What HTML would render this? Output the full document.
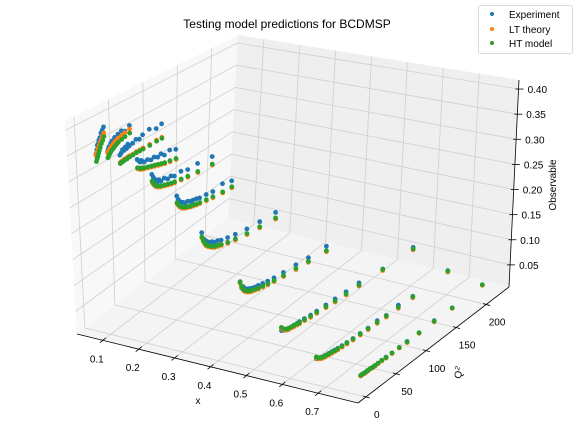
<!DOCTYPE html>
<html><head><meta charset="utf-8"><style>
html,body{margin:0;padding:0;background:#fff;}
svg{display:block;font-family:"Liberation Sans","DejaVu Sans",sans-serif;}
</style></head><body>
<svg id="chart" width="576" height="432" viewBox="0 0 576 432" xmlns="http://www.w3.org/2000/svg">
<text x="287" y="28" font-size="12" text-anchor="middle" fill="#000">Testing model predictions for BCDMSP</text>
<g id="panes"></g>
<g id="grid"></g>
<g id="axes"></g>
<g id="points"></g>
<g>
<rect x="478.5" y="5.5" width="94" height="48" rx="2" fill="#fff" fill-opacity="0.8" stroke="#d0d0d0" stroke-width="0.8"/>
<g><circle cx="492" cy="14" r="2" fill="#1f77b4"/><text x="509" y="18" font-size="10">Experiment</text></g>
<g><circle cx="492" cy="29" r="2" fill="#ff7f0e"/><text x="509" y="33" font-size="10">LT theory</text></g>
<g><circle cx="492" cy="43" r="2" fill="#2ca02c"/><text x="509" y="47" font-size="10">HT model</text></g>
</g>
</svg>
<script>
const xBins = [0.07,0.10,0.14,0.18,0.225,0.275,0.35,0.45,0.55,0.65,0.75];
const q2Values = [
[7.5,8.75,10,11.25,12.5,14,16,18,20],
[9,10,11.25,12.5,14,16,18,20,22.5,25,30,35,42],
[6,8,10,12,14,16,18,20,25,30,35,40,50,60,68],
[10,12,14,16,18,20,25,30,35,40,45,50,58,67],
[7,9,11,13,15,17,20,25,30,35,40,50,60,75,97],
[16,18,20,22,25,28,32,36,40,45,50,60,70,85,99],
[11,13,15,17,20,23,26,30,35,40,50,62,80,100,125],
[12,14,16,18,20,23,26,30,35,40,47,55,65,80,100,120,149],
[18,21,24,27,30,34,38,43,47,55,65,75,90,105,123,144,183,233],
[15,18,21,24,27,30,35,40,45,50,57,65,75,87,100,115,130,150,174,232],
[28,31,34,37,40,44,48,52,57,63,70,80,92,105,125,150,180,230]
];
const htModel = [
[0.330,0.334,0.338,0.343,0.348,0.353,0.359,0.364,0.370],
[0.340,0.342,0.344,0.346,0.349,0.351,0.353,0.355,0.357,0.359,0.361,0.363,0.365],
[0.336,0.337,0.337,0.338,0.338,0.338,0.339,0.339,0.339,0.340,0.340,0.340,0.340,0.341,0.341],
[0.330,0.328,0.326,0.325,0.324,0.323,0.321,0.319,0.317,0.315,0.313,0.311,0.309,0.307],
[0.312,0.306,0.302,0.299,0.297,0.296,0.294,0.292,0.290,0.288,0.287,0.285,0.283,0.281,0.279],
[0.271,0.266,0.262,0.259,0.256,0.254,0.252,0.250,0.249,0.247,0.246,0.244,0.242,0.240,0.239],
[0.220,0.212,0.206,0.201,0.197,0.194,0.191,0.188,0.186,0.184,0.180,0.177,0.173,0.170,0.167],
[0.149,0.140,0.134,0.130,0.127,0.124,0.122,0.120,0.118,0.116,0.114,0.112,0.110,0.107,0.104,0.101,0.097],
[0.076,0.071,0.068,0.066,0.065,0.064,0.063,0.062,0.061,0.060,0.058,0.057,0.055,0.053,0.051,0.050,0.046,0.042],
[0.040,0.036,0.034,0.032,0.031,0.030,0.029,0.028,0.027,0.026,0.025,0.024,0.023,0.022,0.021,0.020,0.019,0.018,0.017,0.015],
[0.012,0.012,0.011,0.011,0.011,0.011,0.010,0.010,0.010,0.010,0.009,0.009,0.009,0.008,0.008,0.008,0.007,0.007]
];
const ltTheory = [
[0.342,0.346,0.349,0.353,0.357,0.362,0.367,0.372,0.377],
[0.350,0.351,0.353,0.355,0.358,0.359,0.361,0.363,0.365,0.367,0.369,0.371,0.373],
[0.338,0.339,0.339,0.340,0.340,0.340,0.341,0.341,0.341,0.342,0.342,0.342,0.342,0.343,0.343],
[0.328,0.326,0.324,0.323,0.322,0.321,0.319,0.317,0.315,0.313,0.311,0.309,0.307,0.305],
[0.310,0.304,0.300,0.297,0.295,0.294,0.292,0.290,0.288,0.286,0.285,0.283,0.281,0.279,0.277],
[0.269,0.264,0.260,0.257,0.254,0.252,0.250,0.248,0.247,0.245,0.244,0.242,0.240,0.238,0.237],
[0.218,0.210,0.204,0.199,0.195,0.192,0.189,0.186,0.184,0.182,0.178,0.175,0.171,0.168,0.165],
[0.147,0.138,0.132,0.128,0.125,0.122,0.120,0.118,0.116,0.114,0.112,0.110,0.108,0.105,0.102,0.099,0.095],
[0.074,0.069,0.066,0.064,0.063,0.062,0.061,0.060,0.059,0.058,0.056,0.055,0.053,0.051,0.049,0.048,0.044,0.040],
[0.038,0.034,0.032,0.030,0.029,0.028,0.027,0.026,0.025,0.024,0.023,0.022,0.021,0.020,0.019,0.018,0.017,0.016,0.015,0.013],
[0.011,0.011,0.010,0.010,0.010,0.010,0.009,0.009,0.009,0.009,0.008,0.008,0.008,0.007,0.007,0.007,0.006,0.006]
];
const experiment = [
[0.345,0.352,0.360,0.362,0.368,0.372,0.380,0.384,0.389],
[0.352,0.356,0.360,0.358,0.365,0.368,0.362,0.372,0.370,0.375,0.378,0.374,0.380],
[0.352,0.355,0.360,0.357,0.362,0.358,0.365,0.360,0.362,0.366,0.363,0.368,0.372,0.366,0.370],
[0.346,0.342,0.338,0.340,0.336,0.334,0.335,0.331,0.333,0.329,0.332,0.326,0.330,0.325],
[0.325,0.318,0.312,0.310,0.306,0.308,0.303,0.305,0.300,0.302,0.298,0.300,0.296,0.297,0.294],
[0.284,0.276,0.270,0.268,0.265,0.262,0.262,0.259,0.258,0.257,0.255,0.254,0.252,0.256,0.251],
[0.228,0.215,0.212,0.208,0.204,0.200,0.200,0.196,0.195,0.192,0.189,0.186,0.182,0.180,0.178],
[0.150,0.137,0.138,0.134,0.130,0.128,0.126,0.124,0.122,0.121,0.119,0.117,0.115,0.113,0.111,0.108,0.106],
[0.070,0.068,0.066,0.064,0.065,0.064,0.064,0.063,0.063,0.062,0.060,0.059,0.058,0.057,0.055,0.054,0.047,0.045],
[0.037,0.035,0.033,0.032,0.031,0.031,0.030,0.029,0.028,0.027,0.026,0.025,0.024,0.023,0.022,0.023,0.020,0.022,0.018,0.016],
[0.011,0.012,0.011,0.011,0.011,0.011,0.010,0.010,0.010,0.010,0.010,0.009,0.009,0.009,0.008,0.009,0.007,0.007]
];
const xTicks = [0.1,0.2,0.3,0.4,0.5,0.6,0.7];
const xTickLabels = ["0.1","0.2","0.3","0.4","0.5","0.6","0.7"];
const qTicks = [0,50,100,150,200];
const qTickLabels = ["0","50","100","150","200"];
const zTicks = [0.05,0.10,0.15,0.20,0.25,0.30,0.35,0.40];
const zTickLabels = ["0.05","0.10","0.15","0.20","0.25","0.30","0.35","0.40"];

const XMIN=0.028, XMAX=0.811, QMIN=-13, QMAX=238, ZMIN=0.006, ZMAX=0.418;
const NS="http://www.w3.org/2000/svg";
function proj(x,q,z){
  const xh=(x-XMIN)/(XMAX-XMIN), qh=(q-QMIN)/(QMAX-QMIN), zh=(z-ZMIN)/(ZMAX-ZMIN);
  return [77+281*xh+151*qh+zh*(-12+22*qh), 334+69*xh-116*qh+zh*(-213-24*xh+30*qh)];
}
function mk(tag,parent,attrs){const e=document.createElementNS(NS,tag);for(const k in attrs)e.setAttribute(k,attrs[k]);parent.appendChild(e);return e;}
function poly(pts){return pts.map(p=>p[0].toFixed(1)+","+p[1].toFixed(1)).join(" ");}

const panes=document.getElementById('panes');
let pn;
pn=mk('polygon',panes,{points:poly([proj(XMIN,QMIN,ZMIN),proj(XMIN,QMAX,ZMIN),proj(XMIN,QMAX,ZMAX),proj(XMIN,QMIN,ZMAX)]),fill:'#f8f8f8'});


pn=mk('polygon',panes,{points:poly([proj(XMIN,QMAX,ZMIN),proj(XMAX,QMAX,ZMIN),proj(XMAX,QMAX,ZMAX),proj(XMIN,QMAX,ZMAX)]),fill:'#efefef'});


pn=mk('polygon',panes,{points:poly([proj(XMIN,QMIN,ZMIN),proj(XMAX,QMIN,ZMIN),proj(XMAX,QMAX,ZMIN),proj(XMIN,QMAX,ZMIN)]),fill:'#f4f4f4'});



const grid=document.getElementById('grid');
function gline(a,b,name){const l=mk('line',grid,{x1:a[0],y1:a[1],x2:b[0],y2:b[1],stroke:'#cfcfcf','stroke-width':0.8});

}
xTicks.forEach(t=>{gline(proj(t,QMIN,ZMIN),proj(t,QMAX,ZMIN),'x-gridline');gline(proj(t,QMAX,ZMIN),proj(t,QMAX,ZMAX),'x-gridline');});
qTicks.forEach(t=>{gline(proj(XMIN,t,ZMIN),proj(XMAX,t,ZMIN),'q2-gridline');gline(proj(XMIN,t,ZMIN),proj(XMIN,t,ZMAX),'q2-gridline');});
zTicks.forEach(t=>{gline(proj(XMIN,QMIN,t),proj(XMIN,QMAX,t),'z-gridline');gline(proj(XMIN,QMAX,t),proj(XMAX,QMAX,t),'z-gridline');});

const axes=document.getElementById('axes');
function aline(a,b,name,w){const l=mk('line',axes,{x1:a[0],y1:a[1],x2:b[0],y2:b[1],stroke:'#000','stroke-width':w});

}
function atext(p,s,name,anchor){const t=mk('text',axes,{x:p[0].toFixed(1),y:p[1].toFixed(1),'font-size':10,'text-anchor':anchor||'middle',fill:'#000'});t.textContent=s;

}
aline(proj(XMIN,QMIN,ZMIN),proj(XMAX,QMIN,ZMIN),'x-axis-line',0.8);
aline(proj(XMAX,QMIN,ZMIN),proj(XMAX,QMAX,ZMIN),'q2-axis-line',0.8);
aline(proj(XMAX,QMAX,ZMIN),proj(XMAX,QMAX,ZMAX),'z-axis-line',0.8);
xTicks.forEach((t,i)=>{const p=proj(t,QMIN,ZMIN);aline([p[0]+3,p[1]-2.5],[p[0]-3,p[1]+2.5],'x-tick',0.8);atext([p[0]-6,p[1]+22],xTickLabels[i],'x-tick-label');});
qTicks.forEach((t,i)=>{const p=proj(XMAX,t,ZMIN);aline([p[0]-3,p[1]-1],[p[0]+4,p[1]+1],'q2-tick',0.8);atext([p[0]+11,p[1]+21],qTickLabels[i],'q2-tick-label');});
zTicks.forEach((t,i)=>{const p=proj(XMAX,QMAX,t);aline([p[0]-3,p[1]],[p[0]+5,p[1]],'z-tick',0.8);atext([p[0]+9,p[1]+4],zTickLabels[i],'z-tick-label','start');});
atext([198,404],'x','x-axis-title');
(function(){const t=mk('text',axes,{x:0,y:0,'font-size':10,'text-anchor':'middle',transform:'translate(462,374) rotate(-70)'});t.innerHTML='Q<tspan font-size="7" dy="-4">2</tspan>';

})();
(function(){const t=mk('text',axes,{x:0,y:0,'font-size':10,'text-anchor':'middle',transform:'translate(556,185) rotate(-90)'});t.textContent='Observable';

})();

const pts=document.getElementById('points');
function series(vals,color,name){
  const g=mk('g',pts,{fill:color});
  
  
  xBins.forEach((x,i)=>{q2Values[i].forEach((q,j)=>{const p=proj(x,q,vals[i][j]);
    const c=mk('circle',g,{cx:p[0].toFixed(1),cy:p[1].toFixed(1),r:2.4});
    
    });});
}
series(experiment,'#1f77b4','experiment-series');
series(ltTheory,'#ff7f0e','lt-theory-series');
series(htModel,'#2ca02c','ht-model-series');
</script>
</body></html>
